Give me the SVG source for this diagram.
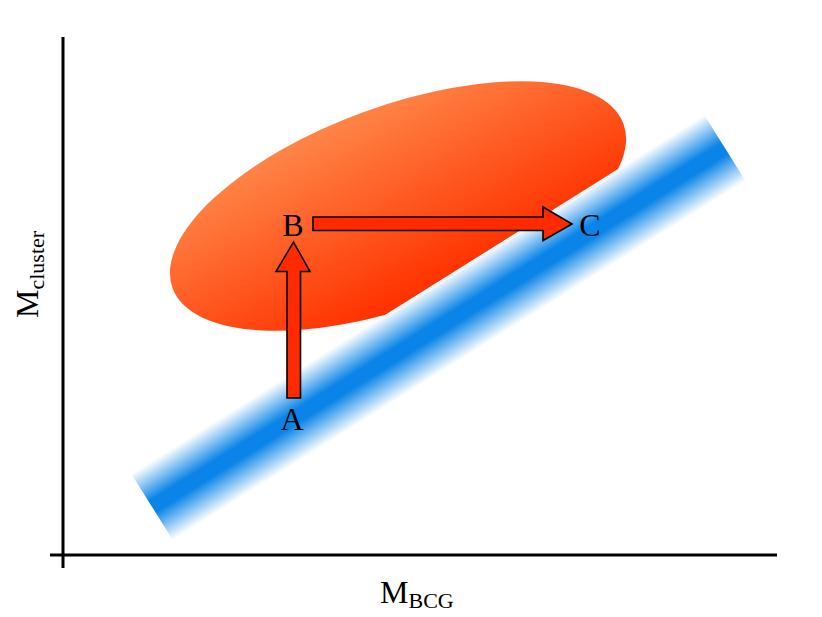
<svg xmlns="http://www.w3.org/2000/svg" width="822" height="617" viewBox="0 0 822 617">
<defs>
<linearGradient id="ell" x1="0" y1="0" x2="0.3" y2="1">
<stop offset="0" stop-color="#ff9050"/>
<stop offset="1" stop-color="#ff3200"/>
</linearGradient>
<linearGradient id="band" x1="0" y1="0" x2="0" y2="1">
<stop offset="0" stop-color="#ffffff"/>
<stop offset="0.42" stop-color="#0a84e8"/>
<stop offset="0.58" stop-color="#0a84e8"/>
<stop offset="1" stop-color="#ffffff"/>
</linearGradient>
<style>
.ax{stroke:#000;stroke-width:3;fill:none}
.arr{fill:#ff2a00;stroke:#000;stroke-width:1.6;stroke-linejoin:miter}
.lbl{font-family:"Liberation Serif","Times New Roman",serif;font-size:32px;fill:#000}
.sub{font-size:22px}
</style>
</defs>
<rect width="822" height="617" fill="#fff"/>
<g id="ellipse">
<ellipse cx="398" cy="206" rx="240" ry="100" transform="rotate(-20 398 206)" fill="url(#ell)"/>
</g>
<g id="band-g">
<rect x="-338" y="-39" width="676" height="78" fill="url(#band)" transform="translate(438.5 327.5) rotate(-32.07)"/>
</g>
<g id="axes">
<line class="ax" x1="63" y1="37" x2="63" y2="568"/>
<line class="ax" x1="50" y1="555" x2="777" y2="555"/>
</g>
<g id="connectors">
<path class="arr" d="M287,398 L300.5,398 L300.5,271.5 L310,271.5 L293.5,242 L276,271.5 L287,271.5 Z"/>
<path class="arr" d="M313,217 L543,217 L543,207 L572,224 L543,240.5 L543,230.5 L313,230.5 Z"/>
</g>
<g id="A"><text class="lbl" x="292" y="430" text-anchor="middle">A</text></g>
<g id="B"><text class="lbl" x="293" y="236" text-anchor="middle">B</text></g>
<g id="C"><text class="lbl" x="590" y="236" text-anchor="middle">C</text></g>
<g id="xlabel"><text class="lbl" x="380" y="603">M<tspan class="sub" dy="5">BCG</tspan></text></g>
<g id="ylabel"><text class="lbl" transform="translate(38 318) rotate(-90)">M<tspan class="sub" dy="6">cluster</tspan></text></g>
</svg>
